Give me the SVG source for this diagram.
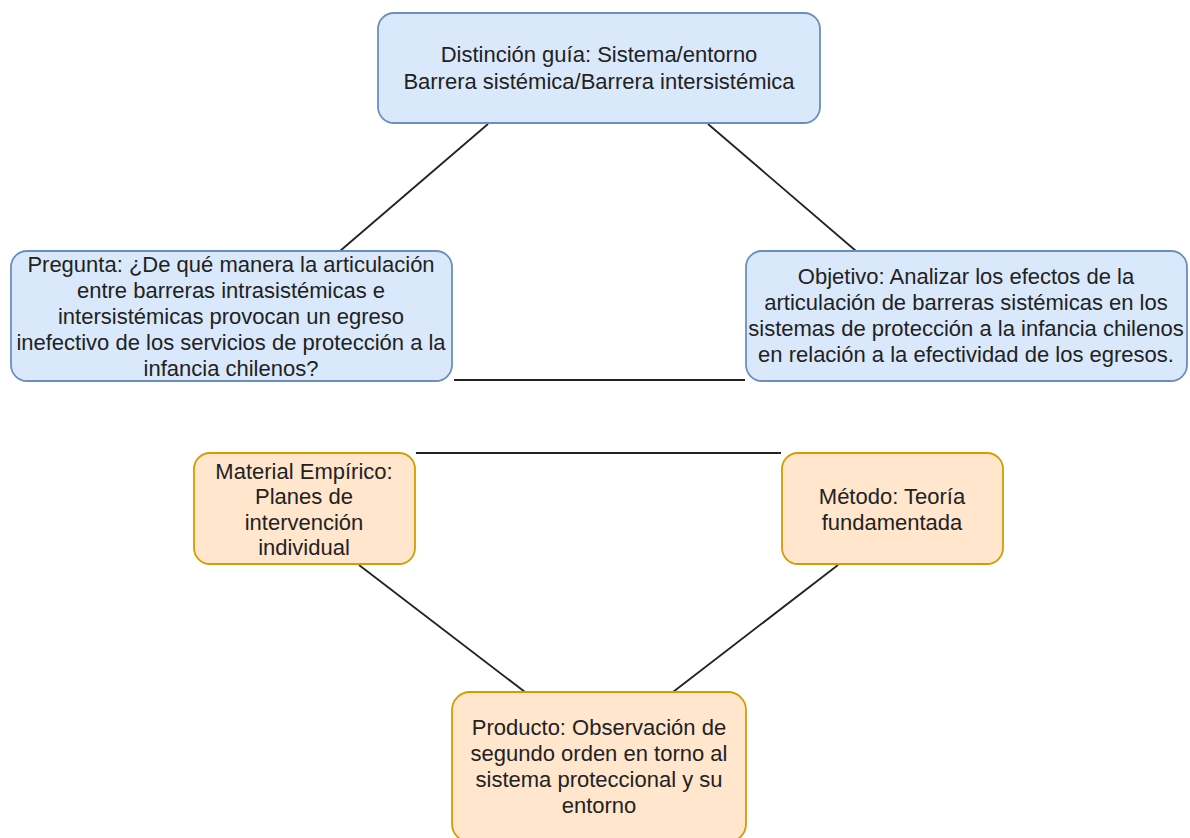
<svg xmlns="http://www.w3.org/2000/svg" width="1190" height="838" viewBox="0 0 1190 838">
  <style>
    .blue { fill: #dae8fc; stroke: #6c8ebf; stroke-width: 1.8; }
    .orange { fill: #ffe6cc; stroke: #d79b00; stroke-width: 1.8; }
    .lbl { font-family: "Liberation Sans", Arial, sans-serif; font-size: 22px; fill: #222; text-anchor: middle; }
    .edge { stroke: #222; stroke-width: 1.8; fill: none; }
  </style>
  <rect width="1190" height="838" fill="#ffffff"/>

  <g id="connectors">
    <line class="edge" x1="488" y1="124" x2="340" y2="251"/>
    <line class="edge" x1="708" y1="124" x2="856" y2="251"/>
    <line class="edge" x1="454" y1="380" x2="745" y2="380"/>
    <line class="edge" x1="416" y1="453" x2="781" y2="453"/>
    <line class="edge" x1="359" y1="565" x2="525" y2="692"/>
    <line class="edge" x1="838" y1="565" x2="673" y2="692"/>
  </g>

  <g id="distincion">
    <rect class="blue" x="378" y="13" width="442" height="110" rx="16"/>
    <text class="lbl" x="599" y="62">Distinción guía: Sistema/entorno</text>
    <text class="lbl" x="599" y="89">Barrera sistémica/Barrera intersistémica</text>
  </g>

  <g id="pregunta">
    <rect class="blue" x="11" y="251" width="441" height="130" rx="16"/>
    <text class="lbl" x="231" y="272">Pregunta: ¿De qué manera la articulación</text>
    <text class="lbl" x="231" y="298">entre barreras intrasistémicas e</text>
    <text class="lbl" x="231" y="324">intersistémicas provocan un egreso</text>
    <text class="lbl" x="231" y="350">inefectivo de los servicios de protección a la</text>
    <text class="lbl" x="231" y="376">infancia chilenos?</text>
  </g>

  <g id="objetivo">
    <rect class="blue" x="746" y="251" width="441" height="130" rx="16"/>
    <text class="lbl" x="966" y="284">Objetivo: Analizar los efectos de la</text>
    <text class="lbl" x="966" y="310">articulación de barreras sistémicas en los</text>
    <text class="lbl" x="966" y="336">sistemas de protección a la infancia chilenos</text>
    <text class="lbl" x="966" y="362">en relación a la efectividad de los egresos.</text>
  </g>

  <g id="material">
    <rect class="orange" x="194" y="453" width="221" height="111" rx="16"/>
    <text class="lbl" x="304" y="479">Material Empírico:</text>
    <text class="lbl" x="304" y="504">Planes de</text>
    <text class="lbl" x="304" y="530">intervención</text>
    <text class="lbl" x="304" y="555">individual</text>
  </g>

  <g id="metodo">
    <rect class="orange" x="782" y="453" width="221" height="111" rx="16"/>
    <text class="lbl" x="892" y="504">Método: Teoría</text>
    <text class="lbl" x="892" y="530">fundamentada</text>
  </g>

  <g id="producto">
    <rect class="orange" x="452" y="692" width="294" height="150" rx="18"/>
    <text class="lbl" x="599" y="735">Producto: Observación de</text>
    <text class="lbl" x="599" y="761">segundo orden en torno al</text>
    <text class="lbl" x="599" y="787">sistema proteccional y su</text>
    <text class="lbl" x="599" y="813">entorno</text>
  </g>
</svg>
